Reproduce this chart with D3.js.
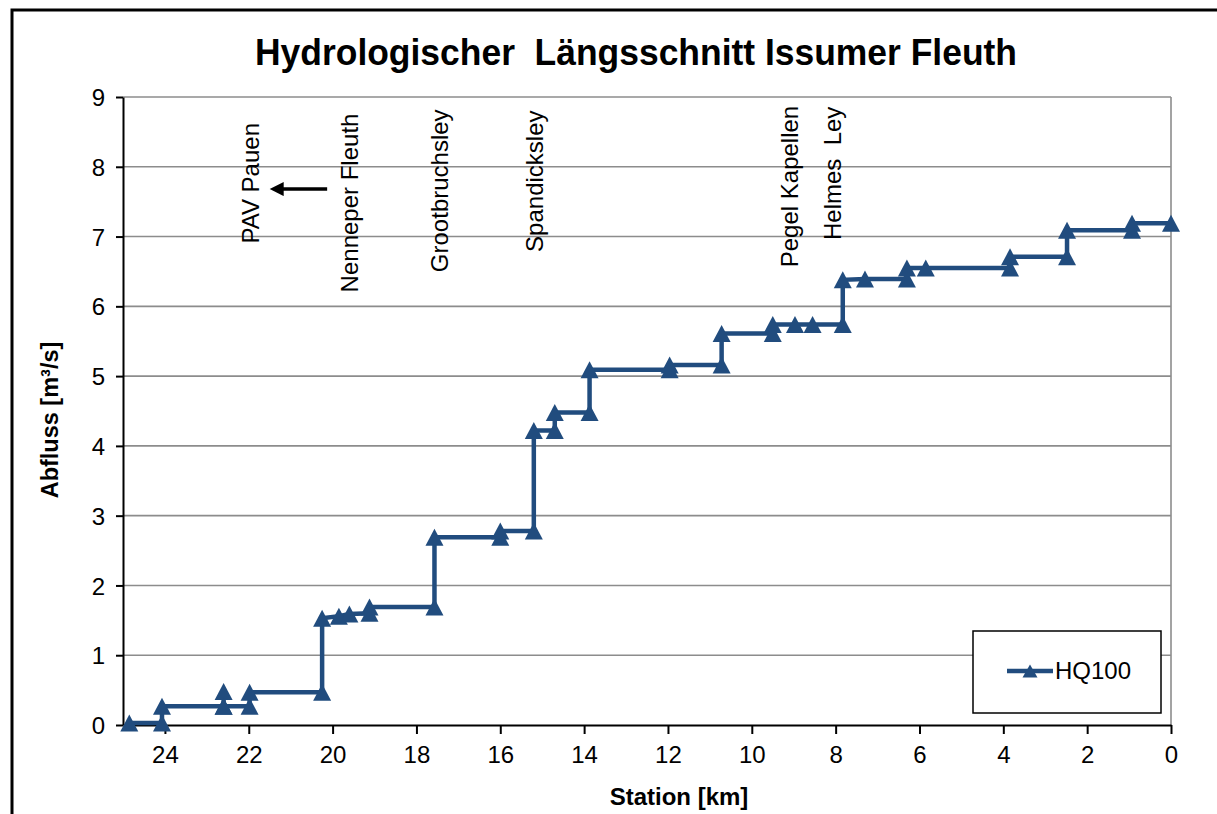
<!DOCTYPE html>
<html><head><meta charset="utf-8">
<script src="https://cdn.jsdelivr.net/npm/d3@7"></script>
<style>
html,body{margin:0;padding:0;background:#fff;}
text{font-family:"Liberation Sans",Arial,sans-serif;}
</style></head>
<body><svg id="c" width="1217" height="814"></svg>
<script>
// ---- data ----
const chartTitle = "Hydrologischer  Längsschnitt Issumer Fleuth";
const seriesName = "HQ100";
const stationKm = [24.85, 24.07, 24.07, 22.6, 22.6, 22.6, 21.98, 21.98, 20.25, 20.25, 19.85, 19.6, 19.12, 19.12, 17.57, 17.57, 16.0, 16.0, 15.2, 15.2, 14.7, 14.7, 13.87, 13.87, 11.96, 11.96, 10.72, 10.72, 9.5, 9.5, 8.97, 8.55, 7.83, 7.83, 7.3, 6.3, 6.3, 5.85, 3.84, 3.84, 2.48, 2.48, 0.93, 0.93, 0];
const hq100 =     [0.03, 0.03, 0.27, 0.27, 0.48, 0.27, 0.27, 0.47, 0.47, 1.53, 1.56, 1.59, 1.6, 1.69, 1.69, 2.69, 2.69, 2.78, 2.78, 4.22, 4.22, 4.48, 4.48, 5.09, 5.09, 5.16, 5.16, 5.61, 5.61, 5.74, 5.74, 5.74, 5.74, 6.38, 6.39, 6.39, 6.55, 6.55, 6.55, 6.71, 6.71, 7.09, 7.09, 7.19, 7.19];
const xTicks = [24, 22, 20, 18, 16, 14, 12, 10, 8, 6, 4, 2, 0];
const yTicks = [0, 1, 2, 3, 4, 5, 6, 7, 8, 9];
const labelNames = ["PAV Pauen", "Nenneper Fleuth", "Grootbruchsley", "Spandicksley", "Pegel Kapellen", "Helmes  Ley"];
const labelKm =    [21.96, 19.6, 17.45, 15.18, 9.1, 8.07];
const labelBase =  [6.9, 6.2, 6.49, 6.78, 6.56, 6.95];
const arrowFromKm = 20.13, arrowToKm = 21.2, arrowVal = 7.68;
const xTitle = "Station [km]";
const yTitle = "Abfluss [m³/s]";

// ---- drawing ----
const svg = d3.select("#c");
const L = 123, R = 1171, T = 97, B = 725;
const x = d3.scaleLinear().domain([25, 0]).range([L, R]);
const y = d3.scaleLinear().domain([0, 9]).range([B, T]);
const col = "#214C7E";

svg.append("rect").attr("x", 12).attr("y", 10).attr("width", 1240).attr("height", 840)
  .attr("fill", "#fff").attr("stroke", "#000").attr("stroke-width", 3);

// gridlines
svg.append("g").selectAll("line").data(yTicks.filter(d => d > 0)).join("line")
  .attr("x1", L).attr("x2", R).attr("y1", d => y(d)).attr("y2", d => y(d))
  .attr("stroke", "#8c8c8c").attr("stroke-width", 1.6);
svg.append("line").attr("x1", R).attr("x2", R).attr("y1", T).attr("y2", B)
  .attr("stroke", "#8c8c8c").attr("stroke-width", 1.6);

// axes
const xAxis = d3.axisBottom(x).tickValues(xTicks).tickSize(9).tickSizeOuter(0).tickPadding(12);
const gx = svg.append("g").attr("transform", `translate(0,${B})`).call(xAxis);
const yAxis = d3.axisLeft(y).tickValues(yTicks).tickSize(7).tickSizeOuter(0).tickPadding(11);
const gy = svg.append("g").attr("transform", `translate(${L},0)`).call(yAxis);
[gx, gy].forEach(g => {
  g.select(".domain").attr("stroke", "#000").attr("stroke-width", 2);
  g.selectAll(".tick line").attr("stroke", "#000").attr("stroke-width", 2);
  g.selectAll(".tick text").attr("fill", "#000").style("font-size", "24px")
   .style("font-family", '"Liberation Sans",Arial,sans-serif');
});
gy.selectAll(".tick text").attr("dy", "0.36em");

// line
const pts = stationKm.map((k, i) => [k, hq100[i]]);
svg.append("path").datum(pts)
  .attr("d", d3.line().x(d => x(d[0])).y(d => y(d[1])))
  .attr("fill", "none").attr("stroke", col).attr("stroke-width", 4.5).attr("stroke-linejoin", "miter");
const tri = (w, h) => `M0,${-h/2}L${w/2},${h/2}L${-w/2},${h/2}Z`;
svg.append("g").selectAll("path").data(pts).join("path")
  .attr("d", tri(18, 17))
  .attr("transform", d => `translate(${x(d[0])},${y(d[1])})`)
  .attr("fill", col);

// title
svg.append("text").attr("x", 636).attr("y", 65).attr("text-anchor", "middle")
  .attr("textLength", 762).attr("lengthAdjust", "spacingAndGlyphs")
  .style("font-size", "36px").style("font-weight", "bold").style("white-space", "pre")
  .text(chartTitle);
svg.append("text").attr("x", 679).attr("y", 805).attr("text-anchor", "middle")
  .style("font-size", "24px").style("font-weight", "bold").text(xTitle);
svg.append("text").attr("transform", `translate(58,${(T + B) / 2 + 9}) rotate(-90)`)
  .attr("text-anchor", "middle").style("font-size", "23.5px").style("font-weight", "bold")
  .text(yTitle);

// annotations
labelNames.forEach((n, i) => {
  svg.append("text").attr("transform", `translate(${x(labelKm[i])},${y(labelBase[i])}) rotate(-90)`)
    .attr("text-anchor", "start").attr("dy", "0.35em")
    .style("font-size", "24px").style("white-space", "pre").text(n);
});
svg.append("defs").append("marker").attr("id", "ah").attr("viewBox", "0 0 10 10")
  .attr("refX", 1).attr("refY", 5).attr("markerWidth", 4.5).attr("markerHeight", 4)
  .attr("markerUnits", "strokeWidth")
  .attr("orient", "auto").append("path").attr("d", "M0,0L10,5L0,10Z").attr("fill", "#000");
svg.append("line").attr("x1", x(arrowFromKm)).attr("x2", x(arrowToKm))
  .attr("y1", y(arrowVal)).attr("y2", y(arrowVal))
  .attr("stroke", "#000").attr("stroke-width", 3.5).attr("marker-end", "url(#ah)");

// legend
const lg = svg.append("g");
lg.append("rect").attr("x", 973).attr("y", 631).attr("width", 188).attr("height", 82)
  .attr("fill", "#fff").attr("stroke", "#000").attr("stroke-width", 1.5);
lg.append("line").attr("x1", 1007).attr("x2", 1053).attr("y1", 671).attr("y2", 671)
  .attr("stroke", col).attr("stroke-width", 4.5);
lg.append("path").attr("d", tri(15, 13)).attr("transform", "translate(1030,671)").attr("fill", col);
lg.append("text").attr("x", 1055).attr("y", 679).style("font-size", "24px").text(seriesName);
</script></body></html>
